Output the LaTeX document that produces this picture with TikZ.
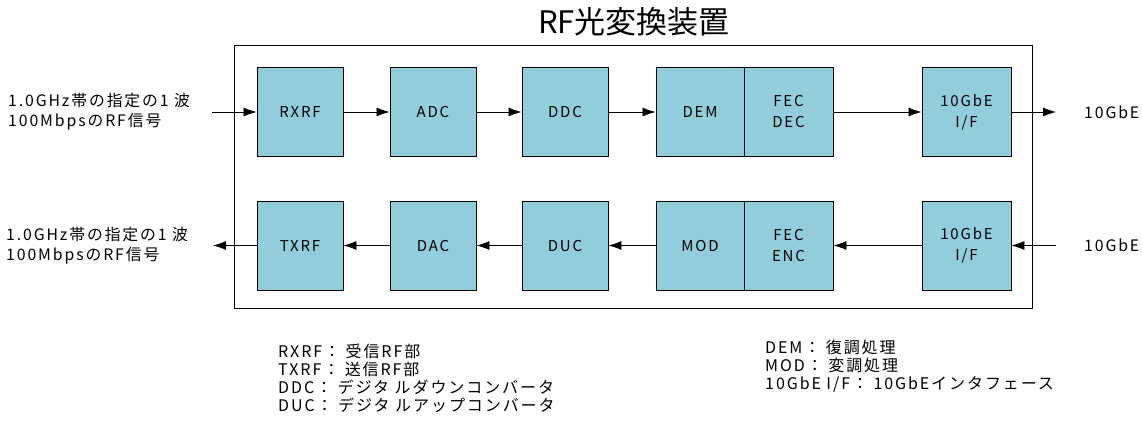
\documentclass[tikz,border=0pt]{standalone}
\usepackage{fontspec}
\setmainfont[LetterSpace=12]{Noto Sans CJK JP}
\newfontfamily\titlefont{Noto Sans CJK JP}
\usetikzlibrary{arrows.meta}
\definecolor{boxfill}{RGB}{146,205,220}
\tikzset{
  blk/.style={draw=black, line width=0.9pt, fill=boxfill, minimum height=89pt, inner sep=0pt, align=center, font=\fontsize{15}{21}\selectfont},
  conn/.style={line width=0.8pt, -{Latex[length=13pt,width=9pt]}},
  lbl/.style={inner sep=0pt, align=left, font=\fontsize{15.8}{20}\selectfont},
  legend/.style={inner sep=0pt, align=left, font=\fontsize{16}{18}\selectfont}
}
\begin{document}
\begin{tikzpicture}[x=1pt,y=-1pt]
\useasboundingbox (0,0) rectangle (1142,428);
\node[font=\titlefont\fontsize{31}{34}\selectfont, inner sep=0pt] (title) at (634,22) {RF光変換装置};
\node[draw=black, line width=1pt, minimum width=798pt, minimum height=262pt, inner sep=0pt] (frame) at (633,177) {};
% top row
\node[blk, minimum width=86pt] (rxrf) at (300,112) {RXRF};
\node[blk, minimum width=86pt] (adc) at (433,112) {ADC};
\node[blk, minimum width=86pt] (ddc) at (565,112) {DDC};
\node[blk, minimum width=88pt] (dem) at (700,112) {DEM};
\node[blk, minimum width=89pt] (fecd) at (788.5,112) {FEC\\DEC};
\node[blk, minimum width=89pt] (ifr) at (966.5,112) {10GbE\\I/F};
% bottom row
\node[blk, minimum width=86pt] (txrf) at (300,245.5) {TXRF};
\node[blk, minimum width=86pt] (dac) at (433,245.5) {DAC};
\node[blk, minimum width=86pt] (duc) at (565,245.5) {DUC};
\node[blk, minimum width=88pt] (mod) at (700,245.5) {MOD};
\node[blk, minimum width=89pt] (fece) at (788.5,245.5) {FEC\\ENC};
\node[blk, minimum width=89pt] (ift) at (966.5,245.5) {10GbE\\I/F};
% outside labels
\node[lbl, anchor=west] (inrf) at (8,112) {1.0GHz帯の指定の1 波\\100MbpsのRF信号};
\node[lbl, anchor=west] (outrf) at (6,245.5) {1.0GHz帯の指定の1 波\\100MbpsのRF信号};
\node[lbl, anchor=west] (out10) at (1084,112) {10GbE};
\node[lbl, anchor=west] (in10) at (1084,245.5) {10GbE};
\coordinate (inA) at (212,112);
\coordinate (outA) at (213,245.5);
\coordinate (outB) at (1056,112);
\coordinate (inB) at (1056,245.5);
% connectors
\draw[conn] (inA) -- (rxrf.west);
\draw[conn] (rxrf) -- (adc);
\draw[conn] (adc) -- (ddc);
\draw[conn] (ddc) -- (dem);
\draw[conn] (fecd) -- (ifr);
\draw[conn] (ifr.east) -- (outB);
\draw[conn] (inB) -- (ift.east);
\draw[conn] (ift) -- (fece);
\draw[conn] (mod) -- (duc);
\draw[conn] (duc) -- (dac);
\draw[conn] (dac) -- (txrf);
\draw[conn] (txrf.west) -- (outA);
% legends
\node[legend, anchor=north west] (leg1) at (278,344) {RXRF： 受信RF部\\TXRF： 送信RF部\\DDC： デジタ ルダウンコンバータ\\DUC： デジタ ルアップコンバータ};
\node[legend, anchor=north west] (leg2) at (765,340) {DEM： 復調処理\\MOD： 変調処理\\10GbE I/F： 10GbEインタフェース};
\end{tikzpicture}
\end{document}
